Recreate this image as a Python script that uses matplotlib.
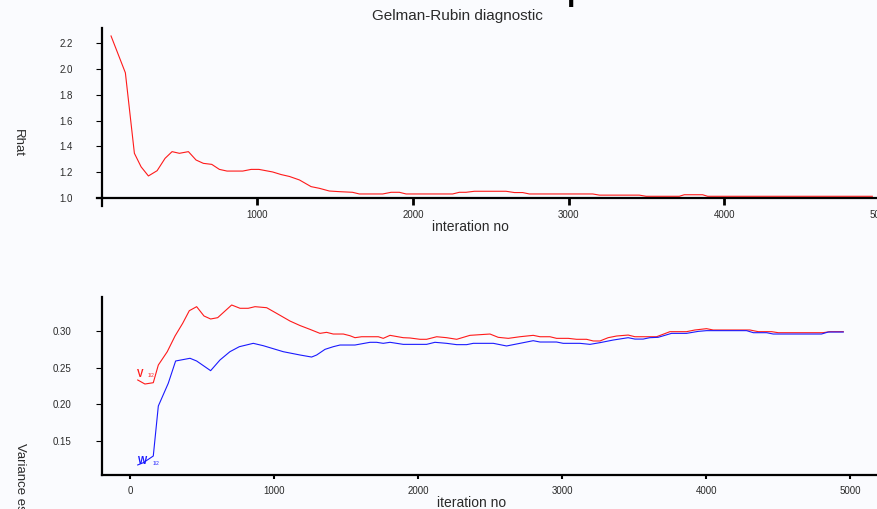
import matplotlib
matplotlib.use('Agg')
import matplotlib.pyplot as plt
from matplotlib.lines import Line2D

plt.rcParams['font.family'] = ['Liberation Sans', 'DejaVu Sans']

# Gelman-Rubin Rhat (red line, top panel)
rhat_iter = [60, 152, 210, 253, 300, 356, 407, 452, 499, 557,
             606, 653, 707, 756, 805, 906, 960, 1010, 1098, 1152,
             1206, 1270, 1345, 1398, 1462, 1526, 1611, 1655, 1805, 1859,
             1912, 1955, 2254, 2297, 2340, 2394, 2597, 2651, 2704, 2747,
             3154, 3197, 3453, 3497, 3710, 3742, 3860, 3892, 4950]
rhat = [2.257, 1.971, 1.345, 1.24, 1.169, 1.21, 1.306, 1.358, 1.345, 1.358,
        1.293, 1.267, 1.259, 1.22, 1.207, 1.207, 1.22, 1.22, 1.2, 1.18,
        1.165, 1.138, 1.086, 1.073, 1.052, 1.047, 1.042, 1.029, 1.029, 1.042,
        1.042, 1.029, 1.029, 1.042, 1.042, 1.05, 1.05, 1.04, 1.04, 1.029,
        1.029, 1.02, 1.02, 1.011, 1.011, 1.023, 1.023, 1.011, 1.011]

# Variance estimates (bottom panel): V (pooled, red) and W (within, blue)
v_iter = [53, 103, 161, 196, 258, 312, 365, 411, 462, 513,
          559, 608, 705, 763, 820, 867, 948, 1017, 1110, 1179,
          1248, 1318, 1364, 1410, 1480, 1526, 1561, 1607, 1723, 1757,
          1804, 1896, 1942, 2012, 2058, 2128, 2197, 2267, 2359, 2428,
          2498, 2555, 2625, 2706, 2798, 2845, 2914, 2960, 3041, 3099,
          3168, 3215, 3261, 3318, 3377, 3457, 3504, 3654, 3747, 3862,
          3920, 4001, 4047, 4302, 4360, 4453, 4499, 4809, 4857, 4950]
v_est = [0.2332, 0.2277, 0.2295, 0.2536, 0.2718, 0.2932, 0.3105, 0.3277, 0.3332, 0.3205,
         0.3164, 0.3182, 0.3355, 0.331, 0.331, 0.3332, 0.3318, 0.3241, 0.3136, 0.3075,
         0.3023, 0.2968, 0.2982, 0.2959, 0.2959, 0.2936, 0.2909, 0.2922, 0.2922, 0.29,
         0.2941, 0.2909, 0.2905, 0.2887, 0.2887, 0.2922, 0.2909, 0.2887, 0.2941, 0.295,
         0.2959, 0.2914, 0.29, 0.2922, 0.2941, 0.2922, 0.2922, 0.29, 0.29, 0.2887,
         0.2887, 0.2864, 0.2864, 0.2909, 0.2932, 0.2945, 0.2922, 0.2922, 0.2991, 0.2991,
         0.3014, 0.3032, 0.3014, 0.3014, 0.2991, 0.2991, 0.2977, 0.2977, 0.2991, 0.2991]

w_iter = [53, 92, 161, 196, 265, 316, 416, 462, 559, 624,
          693, 758, 855, 924, 1063, 1179, 1260, 1295, 1353, 1410,
          1457, 1561, 1665, 1711, 1757, 1804, 1896, 2058, 2116, 2197,
          2267, 2336, 2382, 2521, 2613, 2706, 2798, 2845, 2960, 3006,
          3122, 3192, 3261, 3353, 3457, 3504, 3561, 3607, 3665, 3758,
          3862, 3943, 4001, 4279, 4326, 4418, 4464, 4799, 4845, 4950]
w_est = [0.1173, 0.1204, 0.1295, 0.1977, 0.2287, 0.2591, 0.2628, 0.2591, 0.2459, 0.2605,
         0.2718, 0.2786, 0.2832, 0.28, 0.2718, 0.2673, 0.2645, 0.2673, 0.275, 0.2786,
         0.2809, 0.2809, 0.2846, 0.2846, 0.2832, 0.2846, 0.2818, 0.2818, 0.2846, 0.2832,
         0.2814, 0.2814, 0.2832, 0.2832, 0.2796, 0.2832, 0.2868, 0.285, 0.285, 0.2832,
         0.2832, 0.2818, 0.2841, 0.2877, 0.2909, 0.289, 0.289, 0.2909, 0.2914, 0.2968,
         0.2968, 0.2995, 0.3005, 0.3005, 0.2977, 0.2977, 0.2959, 0.2959, 0.2986, 0.2986]

top_xticks = [1000, 2000, 3000, 4000, 5000]
top_yticks = [1.0, 1.2, 1.4, 1.6, 1.8, 2.0, 2.2]
bot_xticks = [0, 1000, 2000, 3000, 4000, 5000]
bot_yticks = [0.15, 0.20, 0.25, 0.30]

bg = '#fafbfe'
txt = '#2a2a2a'
W, H = 878, 509
tick_fs = 7

fig = plt.figure(figsize=(W / 100, H / 100), dpi=100, facecolor=bg)

# top panel
ax1 = fig.add_axes([101.7 / W, 1 - 197.7 / H, 794 / W, 169.7 / H])
ax1.set_facecolor(bg)
ax1.plot(rhat_iter, rhat, color='#ff1a1a', lw=0.8)
ax1.set_xlim(0, 5100)
ax1.set_ylim(1.0, 2.319)
ax1.set_xticks(top_xticks)
ax1.set_xticklabels([str(t) for t in top_xticks])
ax1.set_yticks(top_yticks)
ax1.set_yticklabels(['%.1f' % t for t in top_yticks])
ax1.tick_params(axis='x', direction='out', length=5, width=2, pad=4,
                labelsize=tick_fs, colors='black', labelcolor=txt)
ax1.tick_params(axis='y', direction='out', length=4, width=0.8, pad=17,
                labelsize=tick_fs, colors='black', labelcolor=txt)
for s in ['top', 'right']:
    ax1.spines[s].set_visible(False)
for s in ['left', 'bottom']:
    ax1.spines[s].set_linewidth(1.6)
# little crossing extensions of the axis lines
ax1.add_line(Line2D([0, 0], [0, -8 / 169.7], transform=ax1.transAxes,
                    color='black', lw=1.6, clip_on=False))
ax1.add_line(Line2D([-5 / 794, 0], [0, 0], transform=ax1.transAxes,
                    color='black', lw=1.6, clip_on=False))
ax1.set_xlabel('interation no', fontsize=10, color=txt)
ax1.xaxis.set_label_coords((470 - 101.7) / 794, -(227 - 197.7) / 169.7)
ax1.xaxis.label.set_va('center')

fig.text(457 / W, 1 - 16 / H, 'Gelman-Rubin diagnostic', ha='center', va='center',
         fontsize=11, color=txt)
fig.text(567 / W, 1.0, 'p', ha='left', va='baseline', fontsize=22,
         fontweight='bold', color='black')
fig.text(18 / W, 1 - 143 / H, 'Rhat', rotation=-90, ha='center', va='center',
         fontsize=9.5, color=txt)

# bottom panel
ax2 = fig.add_axes([101.7 / W, 1 - 475 / H, 792 / W, 178 / H])
ax2.set_facecolor(bg)
ax2.plot(v_iter, v_est, color='#ff1a1a', lw=0.8)
ax2.plot(w_iter, w_est, color='#1a1aff', lw=0.8)
ax2.set_xlim(-197, 5300)
ax2.set_ylim(0.1036, 0.3464)
ax2.set_xticks(bot_xticks)
ax2.set_xticklabels([str(t) for t in bot_xticks])
ax2.set_yticks(bot_yticks)
ax2.set_yticklabels(['%.2f' % t for t in bot_yticks])
ax2.tick_params(axis='x', direction='out', length=3, width=1.5, pad=5,
                labelsize=tick_fs, colors='black', labelcolor=txt)
ax2.tick_params(axis='y', direction='out', length=4, width=0.8, pad=18,
                labelsize=tick_fs, colors='black', labelcolor=txt)
for s in ['top', 'right']:
    ax2.spines[s].set_visible(False)
for s in ['left', 'bottom']:
    ax2.spines[s].set_linewidth(1.6)
ax2.set_xlabel('iteration no', fontsize=10, color=txt)
ax2.xaxis.set_label_coords((472 - 101.7) / 792, -(503 - 475) / 178)
ax2.xaxis.label.set_va('center')

ax2.text(v_iter[0] - 5, v_est[0] + 0.002, 'V', color='#ff1a1a', fontsize=7,
         fontweight='bold', ha='left', va='bottom')
ax2.text(v_iter[0] + 70, v_est[0] + 0.003, '1/2', color='#ff1a1a', fontsize=3.5,
         ha='left', va='bottom')
ax2.text(w_iter[0] + 5, w_est[0] - 0.002, 'W', color='#1a1aff', fontsize=7,
         fontweight='bold', ha='left', va='bottom')
ax2.text(w_iter[0] + 105, w_est[0] - 0.001, '1/2', color='#1a1aff', fontsize=3.5,
         ha='left', va='bottom')

fig.text(20 / W, 1 - 443 / H, 'Variance estimate', rotation=-90, ha='center',
         va='top', fontsize=9.5, color=txt)

fig.savefig('out.png', dpi=100, facecolor=bg)
